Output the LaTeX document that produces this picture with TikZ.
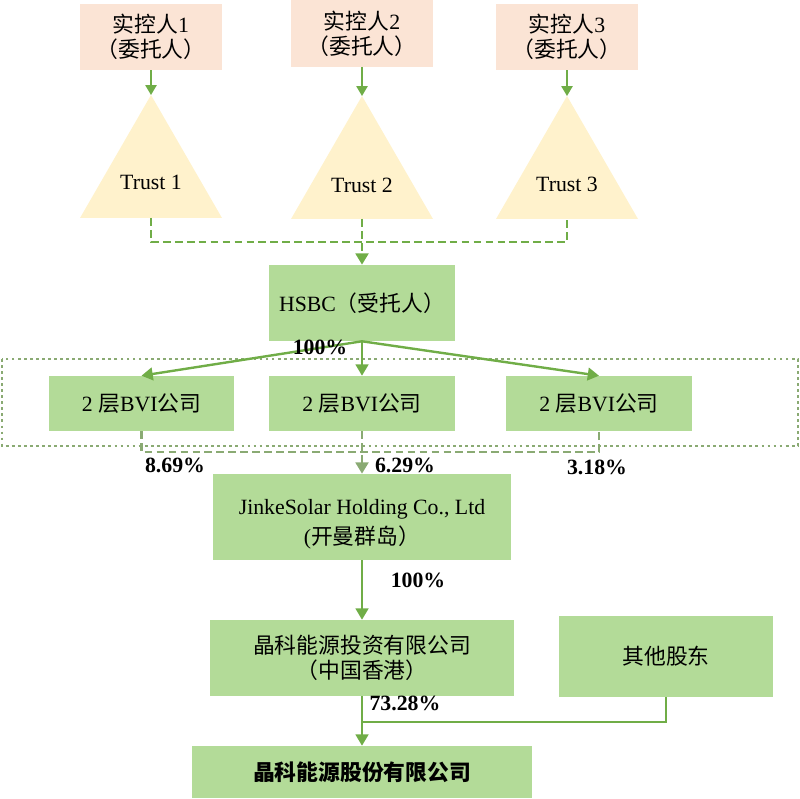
\documentclass[tikz,border=0pt]{standalone}
\usepackage{fontspec}
\setmainfont{Liberation Serif}
\newfontfamily\cjk{Noto Sans CJK SC}
\usetikzlibrary{arrows.meta}

\definecolor{peach}{HTML}{FBE4D5}
\definecolor{trustyellow}{HTML}{FFF2CC}
\definecolor{boxgreen}{HTML}{B3DB98}
\definecolor{linegreen}{HTML}{70AD47}
\definecolor{greygreen}{HTML}{8AAA73}

\tikzset{
    every node/.style={font=\fontsize{15.5}{18}\selectfont},
    ctrlbox/.style={fill=peach, minimum width=3.55cm, minimum height=1.65cm, align=center, inner sep=0pt},
    greenbox/.style={fill=boxgreen, align=center, inner sep=0pt},
    pct/.style={font=\fontsize{15.5}{18}\selectfont\bfseries},
    thinarr/.style={draw=linegreen, line width=1pt, -{Triangle[length=7pt,width=8pt]}},
    arr/.style={draw=linegreen, line width=1.7pt, -{Triangle[length=8pt,width=9pt]}},
    trustline/.style={draw=linegreen, line width=2pt, dash pattern=on 5.5pt off 3pt},
    bviline/.style={draw=greygreen, line width=2pt, dash pattern=on 5.5pt off 3pt},
    plainline/.style={draw=linegreen, line width=1.7pt},
    groupbox/.style={draw=greygreen, line width=2pt, dash pattern=on 2pt off 2.3pt},
}

\begin{document}
\begin{tikzpicture}[x=0.025cm, y=-0.025cm]
    \useasboundingbox (0,0) rectangle (800,799);

    \node[ctrlbox] (ctrl1) at (151,37) {{\cjk 实控人}1\\{\cjk （委托人）}};
    \node[ctrlbox] (ctrl2) at (362,33.5) {{\cjk 实控人}2\\{\cjk （委托人）}};
    \node[ctrlbox] (ctrl3) at (567,37) {{\cjk 实控人}3\\{\cjk （委托人）}};

    \fill[trustyellow] (80,218) -- (151,95) -- (222,218) -- cycle;
    \fill[trustyellow] (291,219) -- (362,96) -- (433,219) -- cycle;
    \fill[trustyellow] (496,219) -- (567,96) -- (638,219) -- cycle;
    \coordinate (apex1) at (151,95);
    \coordinate (apex2) at (362,96);
    \coordinate (apex3) at (567,96);
    \coordinate (base1) at (151,218);
    \coordinate (base2) at (362,219);
    \coordinate (base3) at (567,219);
    \node (trust1) at (151,182) {Trust 1};
    \node (trust2) at (362,185) {Trust 2};
    \node (trust3) at (567,184) {Trust 3};

    \draw[thinarr] (ctrl1.south) -- (apex1);
    \draw[thinarr] (ctrl2.south) -- (apex2);
    \draw[thinarr] (ctrl3.south) -- (apex3);

    \node[greenbox, minimum width=4.625cm, minimum height=1.9cm] (hsbc) at (362,303) {HSBC{\cjk （受托人）}};

    \coordinate (tjoin) at (362,242);
    \draw[trustline] (base1) |- (tjoin) -| (base3);
    \draw[trustline, -{Triangle[length=8pt,width=9pt]}] (base2) -- (hsbc.north);

    \draw[groupbox] (2,359) rectangle (798,446);

    \node[greenbox, minimum width=4.625cm, minimum height=1.375cm] (bvi1) at (141.5,403.5) {2 {\cjk 层}BVI{\cjk 公司}};
    \node[greenbox, minimum width=4.625cm, minimum height=1.375cm] (bvi2) at (362,403.5) {2 {\cjk 层}BVI{\cjk 公司}};
    \node[greenbox, minimum width=4.625cm, minimum height=1.375cm] (bvi3) at (599,403.5) {2 {\cjk 层}BVI{\cjk 公司}};

    \draw[arr] (hsbc.south) -- (bvi1.north);
    \draw[arr] (hsbc.south) -- (bvi2.north);
    \draw[arr] (hsbc.south) -- (bvi3.north);
    \node[pct] (p100a) at (320,347) {100\%};

    \node[greenbox, minimum width=7.45cm, minimum height=2.15cm] (jinko) at (362,517) {};
    \node[align=center] (jinkotext) at (362,524) {JinkeSolar Holding Co., Ltd\\[3pt]({\cjk 开曼群岛）}};

    \coordinate (bjoin) at (362,452);
    \draw[bviline] (bvi1.south) |- (bjoin) -| (bvi3.south);
    \draw[bviline, -{Triangle[length=8pt,width=9pt]}] (bvi2.south) -- (jinko.north);
    \node[pct] (p869) at (175,465) {8.69\%};
    \node[pct] (p629) at (405,465) {6.29\%};
    \node[pct] (p318) at (597,467) {3.18\%};

    \node[greenbox, minimum width=7.575cm, minimum height=1.9cm] (hk) at (362,658) {{\cjk 晶科能源投资有限公司}\\{\cjk （中国香港）}};
    \node[greenbox, minimum width=5.35cm, minimum height=2.025cm] (other) at (666,656.5) {{\cjk 其他股东}};
    \node[greenbox, minimum width=8.475cm, minimum height=1.3cm] (final) at (362,772) {\cjk\bfseries 晶科能源股份有限公司};

    \draw[arr] (jinko.south) -- (hk.north);
    \node[pct] (p100b) at (418,580) {100\%};

    \coordinate (hkjoin) at (362,722);
    \draw[plainline] (other.south) |- (hkjoin);
    \draw[arr] (hk.south) -- (final.north);
    \node[pct] (p7328) at (405,703) {73.28\%};
\end{tikzpicture}
\end{document}
